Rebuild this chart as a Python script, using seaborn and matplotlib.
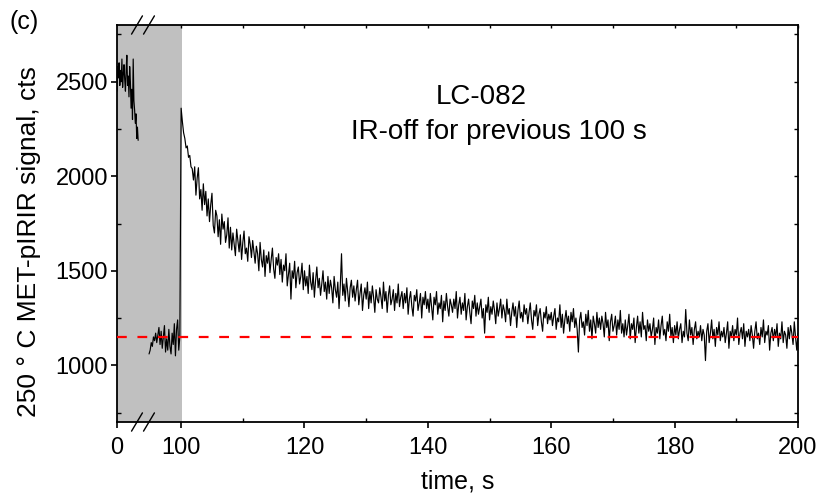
import numpy as np
import matplotlib
matplotlib.use("Agg")
import matplotlib.pyplot as plt
import seaborn as sns
from matplotlib.ticker import FixedLocator, NullFormatter

# ---- data ----
# first 100 s are shown compressed (axis break); times are in that segment's units
early_t = (0, 33)
early_signal = [2450, 2580, 2520, 2600, 2480, 2560, 2500, 2620, 2470, 2540, 2590,
                2510, 2450, 2560, 2640, 2480, 2530, 2420, 2580, 2500, 2360, 2460,
                2300, 2620, 2400, 2350, 2280, 2330, 2200, 2260, 2190]
late_t = (50, 98)
late_signal = [1060, 1080, 1120, 1100, 1150, 1130, 1170, 1120, 1160, 1200, 1110,
               1180, 1090, 1150, 1210, 1070, 1140, 1080, 1190, 1100, 1060, 1170,
               1110, 1220, 1050, 1190, 1240, 1080, 1150]

# IR back on at 100 s, sampled every 0.2 s up to 200 s
decay_t = (100, 200)
decay_signal = [
    2360, 2290, 2230, 2200, 2150, 2160, 2100, 2110, 2050, 2040, 1980, 2050, 1900, 1990, 2045, 1880, 1930, 1820, 1960, 1850,
    1920, 1790, 1880, 1760, 1850, 1910, 1740, 1700, 1820, 1790, 1680, 1770, 1640, 1800, 1720, 1760, 1650, 1690, 1780, 1620,
    1730, 1610, 1700, 1640, 1580, 1720, 1660, 1600, 1690, 1560, 1650, 1710, 1590, 1620, 1550, 1680, 1640, 1570, 1660, 1600,
    1540, 1630, 1590, 1500, 1650, 1560, 1520, 1610, 1470, 1580, 1540, 1600, 1490, 1560, 1620, 1510, 1460, 1570, 1530, 1590,
    1480, 1560, 1440, 1530, 1500, 1590, 1420, 1480, 1540, 1350, 1500, 1460, 1550, 1410, 1490, 1520, 1430, 1470, 1540, 1400,
    1500, 1420, 1470, 1380, 1530, 1440, 1400, 1490, 1360, 1450, 1520, 1410, 1460, 1370, 1430, 1500, 1390, 1440, 1350, 1470,
    1380, 1450, 1410, 1330, 1470, 1400, 1360, 1440, 1300, 1420, 1590, 1370, 1430, 1340, 1460, 1390, 1310, 1410, 1450, 1360,
    1420, 1340, 1400, 1450, 1320, 1380, 1430, 1290, 1370, 1410, 1350, 1440, 1300, 1390, 1330, 1420, 1360, 1280, 1400, 1350,
    1330, 1410, 1360, 1300, 1440, 1340, 1390, 1280, 1370, 1420, 1320, 1350, 1400, 1290, 1380, 1330, 1430, 1310, 1360, 1390,
    1300, 1380, 1330, 1410, 1270, 1350, 1390, 1310, 1260, 1370, 1340, 1400, 1290, 1330, 1380, 1250, 1360, 1320, 1390, 1300,
    1350, 1280, 1380, 1310, 1240, 1360, 1320, 1390, 1270, 1330, 1300, 1370, 1230, 1340, 1290, 1380, 1310, 1260, 1350, 1320,
    1280, 1350, 1300, 1390, 1250, 1320, 1360, 1270, 1330, 1290, 1380, 1240, 1310, 1350, 1280, 1220, 1340, 1300, 1370, 1260,
    1330, 1270, 1310, 1350, 1250, 1300, 1170, 1320, 1280, 1360, 1240, 1310, 1270, 1340, 1290, 1220, 1330, 1260, 1300, 1350,
    1250, 1320, 1290, 1230, 1350, 1270, 1300, 1210, 1280, 1330, 1260, 1310, 1200, 1290, 1340, 1250, 1280, 1230, 1320, 1270,
    1300, 1220, 1280, 1330, 1240, 1190, 1290, 1260, 1320, 1210, 1270, 1300, 1230, 1180, 1280, 1250, 1310, 1220, 1270, 1240,
    1280, 1210, 1260, 1300, 1190, 1250, 1230, 1320, 1200, 1270, 1170, 1240, 1290, 1220, 1260, 1180, 1280, 1230, 1300, 1200,
    1250, 1190, 1070, 1240, 1280, 1200, 1230, 1160, 1270, 1210, 1290, 1180, 1240, 1140, 1260, 1220, 1170, 1280, 1200, 1250,
    1190, 1260, 1220, 1150, 1280, 1200, 1240, 1130, 1230, 1270, 1180, 1210, 1260, 1160, 1240, 1190, 1290, 1170, 1220, 1150,
    1240, 1160, 1210, 1270, 1140, 1220, 1190, 1250, 1120, 1200, 1260, 1170, 1230, 1150, 1280, 1190, 1210, 1130, 1240, 1180,
    1220, 1150, 1190, 1250, 1110, 1200, 1170, 1240, 1140, 1210, 1260, 1160, 1190, 1130, 1230, 1180, 1270, 1150, 1200, 1120,
    1210, 1160, 1230, 1140, 1190, 1220, 1120, 1180, 1150, 1295, 1170, 1130, 1240, 1160, 1200, 1110, 1190, 1230, 1140, 1180,
    1150, 1210, 1130, 1190, 1160, 1025, 1180, 1220, 1120, 1170, 1240, 1140, 1190, 1100, 1200, 1160, 1230, 1130, 1180, 1150,
    1200, 1120, 1170, 1230, 1090, 1180, 1150, 1210, 1130, 1190, 1160, 1250, 1110, 1170, 1200, 1140, 1220, 1100, 1180, 1150,
    1190, 1130, 1210, 1160, 1090, 1180, 1230, 1140, 1170, 1110, 1200, 1150, 1240, 1120, 1180, 1160, 1210, 1080, 1170, 1200,
    1130, 1190, 1150, 1220, 1100, 1170, 1140, 1230, 1120, 1180, 1160, 1090, 1200, 1140, 1210, 1170, 1110, 1230, 1150, 1080,
    1170,
]
baseline = 1150

x_major = [0, 100, 120, 140, 160, 180, 200]
x_minor = [110, 130, 150, 170, 190]
y_major = [1000, 1500, 2000, 2500]
y_minor = [750, 1250, 1750, 2250, 2750]

# ---- broken x axis: 0-100 s squeezed ----
K = 0.104


def fwd(x):
    x = np.asarray(x, dtype=float)
    return np.where(x < 100, x * K, 100 * K + (x - 100))


def inv(u):
    u = np.asarray(u, dtype=float)
    return np.where(u < 100 * K, u / K, u - 100 * K + 100)


sns.set_theme(style="white")
plt.rcParams["font.family"] = ["Liberation Sans", "DejaVu Sans"]

fig = plt.figure(figsize=(8.22, 4.99), dpi=100)
ax = fig.add_axes([0.1423, 0.1543, 0.8285, 0.7956])

ax.axvspan(0, 100.1, color="#c0c0c0", lw=0, zorder=0)

t1 = np.linspace(*early_t, len(early_signal))
t2 = np.concatenate([np.linspace(*late_t, len(late_signal)),
                     np.linspace(*decay_t, len(decay_signal))])
s2 = np.concatenate([late_signal, decay_signal])

sns.lineplot(x=t1, y=early_signal, color="black", linewidth=0.85, ax=ax)
sns.lineplot(x=t2, y=s2, color="black", linewidth=0.85, ax=ax)
ax.axhline(baseline, color="red", linewidth=1.6, linestyle=(0, (4.4, 4.8)), zorder=5)

ax.set_xscale("function", functions=(fwd, inv))
ax.set_xlim(0, 200)
ax.set_ylim(700, 2800)

ax.xaxis.set_major_locator(FixedLocator(x_major))
ax.xaxis.set_minor_locator(FixedLocator(x_minor))
ax.yaxis.set_major_locator(FixedLocator(y_major))
ax.yaxis.set_minor_locator(FixedLocator(y_minor))
ax.xaxis.set_minor_formatter(NullFormatter())
ax.set_xticklabels([str(v) for v in x_major])

ax.tick_params(which="major", direction="out", length=4.5, width=1.2,
               labelsize=17, color="black", labelcolor="black", pad=2)
ax.tick_params(which="minor", direction="in", length=3, width=1, color="black")
ax.tick_params(axis="x", which="major", pad=6)
ax.tick_params(bottom=True, left=True, top=False, right=False, which="both")

for sp in ax.spines.values():
    sp.set_color("black")
    sp.set_linewidth(1.3)

# inward ticks on top and right
axr = ax.twinx()
axr.set_ylim(ax.get_ylim())
axr.yaxis.set_major_locator(FixedLocator(y_major))
axr.yaxis.set_minor_locator(FixedLocator(y_minor))
axr.tick_params(which="both", direction="in", length=3, width=1, color="black",
                labelright=False, right=True)
axt = ax.twiny()
axt.set_xscale("function", functions=(fwd, inv))
axt.set_xlim(0, 200)
axt.xaxis.set_major_locator(FixedLocator(x_major[1:] + x_minor))
axt.xaxis.set_minor_locator(FixedLocator([]))
axt.tick_params(which="both", direction="in", length=2, width=1, color="black",
                labeltop=False, top=True)
for a in (axr, axt):
    a.grid(False)
    for sp in a.spines.values():
        sp.set_visible(False)

# break marks
for xb in (0.0294, 0.047):
    for yb in (0.0, 1.0):
        ax.plot([xb - 0.008, xb + 0.008], [yb - 0.023, yb + 0.023],
                transform=ax.transAxes, color="black", lw=1.0, clip_on=False, zorder=10)

ax.set_xlabel("time, s", fontsize=18, color="black", labelpad=8)
ax.set_ylabel("250 ° C MET-pIRIR signal, cts", fontsize=19, color="black")
ax.yaxis.set_label_coords(-0.112, 0.455)

ax.text(0.5345, 0.8186, "LC-082", transform=ax.transAxes, fontsize=20,
        ha="center", va="center", color="black")
ax.text(0.561, 0.7305, "IR-off for previous 100 s", transform=ax.transAxes,
        fontsize=20, ha="center", va="center", color="black")
fig.text(0.012, 0.955, "(c)", fontsize=18, color="black", ha="left", va="center")

fig.savefig("out.png", dpi=100)
